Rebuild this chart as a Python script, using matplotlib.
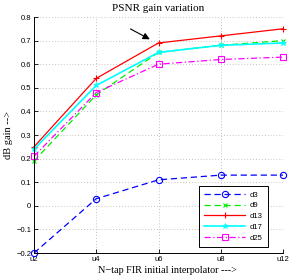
import matplotlib
matplotlib.use("Agg")
import matplotlib.pyplot as plt

categories = ["u2", "u4", "u6", "u8", "u12"]
d3 = [-0.20, 0.03, 0.11, 0.13, 0.13]
d9 = [0.19, 0.47, 0.65, 0.68, 0.70]
d13 = [0.25, 0.54, 0.69, 0.72, 0.75]
d17 = [0.24, 0.51, 0.65, 0.68, 0.69]
d25 = [0.21, 0.48, 0.60, 0.62, 0.63]
yticks = [-0.2, -0.1, 0, 0.1, 0.2, 0.3, 0.4, 0.5, 0.6, 0.7, 0.8]
ytick_labels = ["\u22120.2", "\u22120.1", "0", "0.1", "0.2", "0.3", "0.4", "0.5", "0.6", "0.7", "0.8"]

fig = plt.figure(figsize=(2.92, 2.80), dpi=100)
ax = fig.add_axes([34/292, 1-253/280, (283-34)/292, (253-17)/280])

x = list(range(len(categories)))
ax.plot(x, d3, color="#0000ff", ls=(0, (5, 3)), lw=0.9, marker="o", ms=4.5, mfc="none", mew=0.8, label="d3", clip_on=False)
ax.plot(x, d9, color="#00ee00", ls=(0, (5, 3)), lw=0.9, marker="x", ms=2.5, mew=0.8, label="d9", clip_on=False)
ax.plot(x, d13, color="#ff0000", ls="-", lw=0.9, marker="+", ms=5, mew=0.8, label="d13", clip_on=False)
ax.plot(x, d17, color="#00ffff", ls="-", lw=1.2, marker="*", ms=4, mew=0.5, label="d17", clip_on=False)
ax.plot(x, d25, color="#ff00ff", ls=(0, (5, 2, 1, 2)), lw=0.9, marker="s", ms=4.5, mfc="none", mew=0.8, label="d25", clip_on=False)

ax.set_xlim(0, 4)
ax.set_ylim(-0.2, 0.8)
ax.set_xticks(x)
ax.set_xticklabels(categories)
ax.set_yticks(yticks)
ax.set_yticklabels(ytick_labels)
ax.tick_params(direction="in", length=3, width=0.6, labelsize=5.5, pad=2)
for lab in ax.get_xticklabels() + ax.get_yticklabels():
    lab.set_family(["Liberation Sans", "DejaVu Sans"])
ax.grid(True, ls=(0, (1, 2.5)), color="#b0b0b0", lw=0.6)
ax.spines["top"].set_visible(False)
ax.spines["right"].set_visible(False)
ax.spines["left"].set_linewidth(0.7)
ax.spines["bottom"].set_linewidth(0.7)

ax.set_title("PSNR gain variation", family="Liberation Serif", fontsize=8, pad=4)
ax.set_xlabel("N\u2212tap FIR initial interpolator --->", family="Liberation Serif", fontsize=7.3)
ax.xaxis.set_label_coords(0.536, -0.055)
ax.set_ylabel("dB gain -->", family="Liberation Serif", fontsize=7.5)
ax.yaxis.set_label_coords(-0.085, 0.5)

ax.annotate("", xy=(1.9, 0.70), xytext=(1.51, 0.755),
            arrowprops=dict(arrowstyle="-|>", color="black", lw=0.8, mutation_scale=10))

leg = ax.legend(loc="lower right", bbox_to_anchor=((268-34)/249, (253-247)/236),
                prop={"family": "Liberation Sans", "size": 5.5}, frameon=True, fancybox=False,
                edgecolor="black", framealpha=1, handlelength=5.4, borderpad=0.7,
                labelspacing=0.45, handletextpad=0.6, borderaxespad=0)
leg.get_frame().set_linewidth(0.7)

fig.savefig("out.png", dpi=100)
